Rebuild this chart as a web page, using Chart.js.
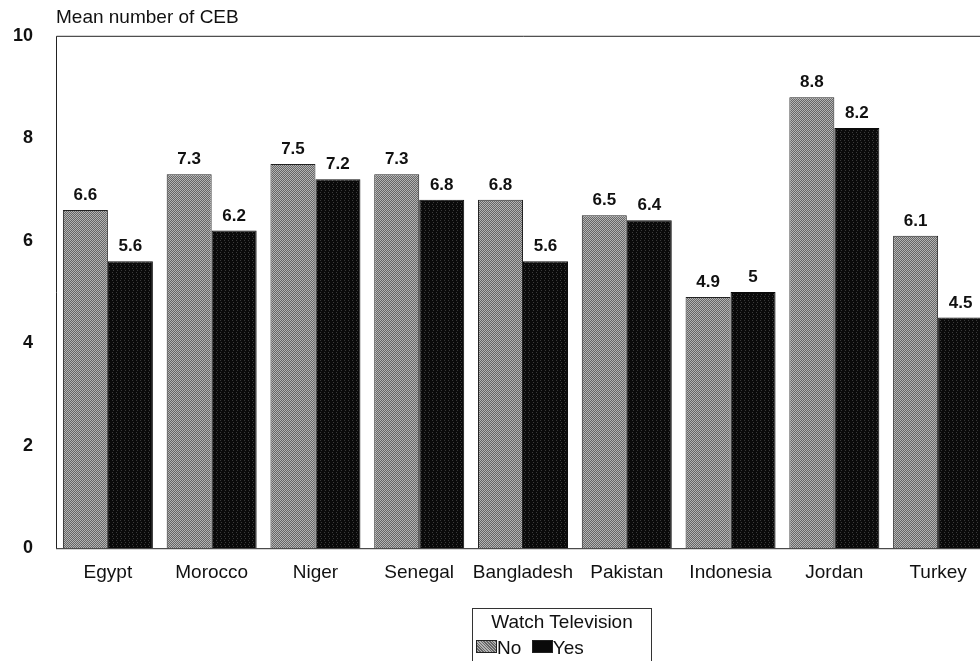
<!DOCTYPE html>
<html>
<head>
<meta charset="utf-8">
<script src="https://cdn.jsdelivr.net/npm/chart.js@4/dist/chart.umd.min.js"></script>
<style>
  html, body { margin: 0; padding: 0; background: #fff; overflow: hidden; }
  #wrap { position: relative; width: 980px; height: 661px; overflow: hidden; }
  #chartBox { position: absolute; left: 0; top: 0; width: 990px; height: 661px; }
  #legendBox {
    position: absolute; left: 472px; top: 608px; width: 178px; height: 60px;
    border: 1px solid #333; border-bottom: none;
    font-family: "Liberation Sans", Arial, sans-serif; color: #111; font-size: 19px;
  }
  #legendBox .ttl { text-align: center; margin-top: 2px; line-height: 22px; }
  #legendBox .row { margin-left: 3px; margin-top: 4px; line-height: 22px; }
  .sw { display: inline-block; width: 19px; height: 11px; border: 1px solid #222; vertical-align: 1px; }
</style>
</head>
<body>
<div id="wrap">
  <div id="chartBox"><canvas id="cebChart"></canvas></div>
  <div id="legendBox">
    <div class="ttl">Watch Television</div>
    <div class="row"><span class="sw" id="swNo"></span>No&nbsp; <span class="sw" id="swYes"></span>Yes</div>
  </div>
</div>
<script>
// data
const countries = ["Egypt", "Morocco", "Niger", "Senegal", "Bangladesh", "Pakistan", "Indonesia", "Jordan", "Turkey"];
const noTv = [6.6, 7.3, 7.5, 7.3, 6.8, 6.5, 4.9, 8.8, 6.1];
const yesTv = [5.6, 6.2, 7.2, 6.8, 5.6, 6.4, 5, 8.2, 4.5];
const yTicks = [0, 2, 4, 6, 8, 10];

const FONT = '"Liberation Sans", Arial, sans-serif';

// halftone-ish fills like the scanned print
function makePattern(dark, light, every) {
  const c = document.createElement("canvas");
  c.width = 4; c.height = 4;
  const g = c.getContext("2d");
  g.fillStyle = dark;
  g.fillRect(0, 0, 4, 4);
  g.fillStyle = light;
  for (let y = 0; y < 4; y++) {
    for (let x = 0; x < 4; x++) {
      if ((x + y * 3) % every === 0) g.fillRect(x, y, 1, 1);
    }
  }
  return g.createPattern(c, "repeat");
}

const ctx = document.getElementById("cebChart").getContext("2d");
const greyFill = makePattern("#666666", "#b4b4b4", 2);
const blackFill = makePattern("#0a0a0a", "#3a3a3a", 7);

document.getElementById("swNo").style.background = "repeating-linear-gradient(45deg,#666 0 1px,#b4b4b4 1px 2px)";
document.getElementById("swYes").style.background = "#0a0a0a";

// value labels above bars
const valueLabels = {
  id: "valueLabels",
  afterDatasetsDraw(chart) {
    const c = chart.ctx;
    c.save();
    c.font = "bold 17px " + FONT;
    c.fillStyle = "#111";
    c.textAlign = "center";
    c.textBaseline = "alphabetic";
    chart.data.datasets.forEach((ds, i) => {
      chart.getDatasetMeta(i).data.forEach((bar, j) => {
        c.fillText(String(ds.data[j]), bar.x, bar.y - 10);
      });
    });
    c.restore();
  }
};

// plot frame (top + left + bottom)
const frame = {
  id: "frame",
  beforeDatasetsDraw(chart) {
    const a = chart.chartArea;
    const c = chart.ctx;
    c.save();
    c.strokeStyle = "#222";
    c.lineWidth = 1;
    c.beginPath();
    c.moveTo(a.left + 0.5, a.bottom);
    c.lineTo(a.left + 0.5, a.top + 0.5);
    c.lineTo(a.right, a.top + 0.5);
    c.moveTo(a.left, a.bottom + 0.5);
    c.lineTo(a.right, a.bottom + 0.5);
    c.stroke();
    c.restore();
  }
};

new Chart(ctx, {
  type: "bar",
  data: {
    labels: countries,
    datasets: [
      {
        label: "No",
        data: noTv,
        backgroundColor: greyFill,
        borderColor: "#222",
        borderWidth: 1
      },
      {
        label: "Yes",
        data: yesTv,
        backgroundColor: blackFill,
        borderColor: "#0a0a0a",
        borderWidth: 1
      }
    ]
  },
  options: {
    responsive: true,
    maintainAspectRatio: false,
    animation: false,
    layout: { padding: { left: 0, right: 0, top: 0, bottom: 64 } },
    datasets: {
      bar: { categoryPercentage: 0.867, barPercentage: 1 }
    },
    plugins: {
      legend: { display: false },
      tooltip: { enabled: false },
      title: {
        display: true,
        text: "Mean number of CEB",
        align: "start",
        fullSize: false,
        color: "#111",
        font: { family: FONT, size: 19, weight: "normal" },
        padding: { top: 6, bottom: 7 }
      }
    },
    scales: {
      x: {
        grid: { display: false, drawTicks: false },
        border: { display: false },
        ticks: {
          color: "#111",
          font: { family: FONT, size: 19 },
          padding: 13,
          maxRotation: 0,
          autoSkip: false
        }
      },
      y: {
        min: 0,
        max: 10,
        afterBuildTicks: (axis) => { axis.ticks = yTicks.map(v => ({ value: v })); },
        afterFit: (axis) => { axis.width = 56; },
        grid: { display: false, drawTicks: false },
        border: { display: false },
        ticks: {
          color: "#111",
          font: { family: FONT, size: 18, weight: "bold" },
          padding: 23
        }
      }
    }
  },
  plugins: [frame, valueLabels]
});
</script>
</body>
</html>
